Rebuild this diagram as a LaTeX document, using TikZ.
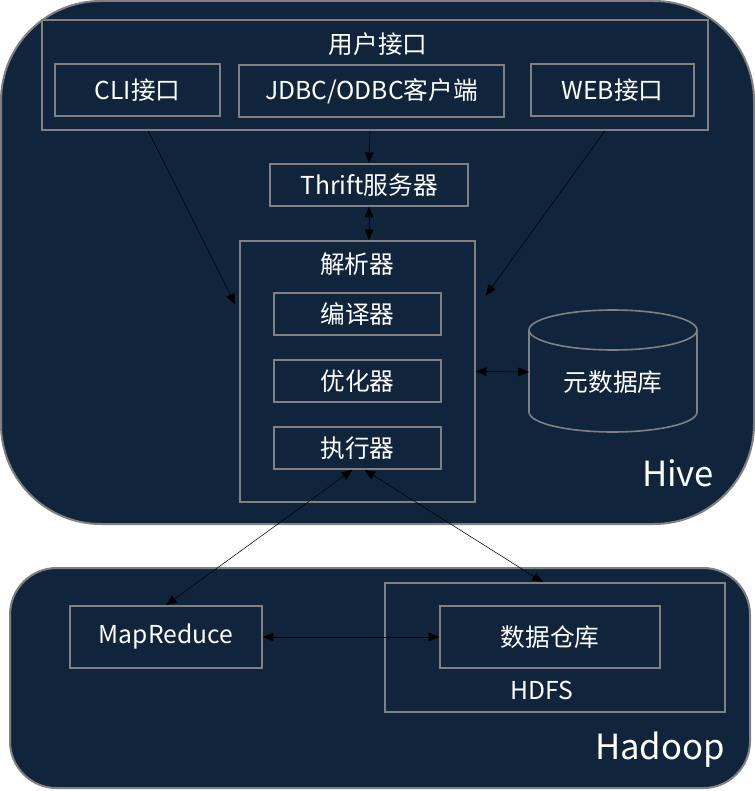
\documentclass[tikz,border=0pt]{standalone}
\usepackage{fontspec}
\setmainfont{Noto Sans CJK SC}
\usetikzlibrary{arrows.meta}
\usetikzlibrary{calc}
\definecolor{hivebg}{RGB}{16,37,60}
\definecolor{boxline}{RGB}{128,128,128}

\begin{document}
\begin{tikzpicture}[x=0.75pt,y=-0.75pt,
	dims/.style 2 args={minimum width=#1*0.75pt, minimum height=#2*0.75pt},
	box/.style={draw=boxline, line width=1.2pt, inner sep=0pt, text=white, font=\fontsize{18.5}{22}\selectfont},
	title/.style={text=white, inner sep=0pt, font=\fontsize{18.5}{22}\selectfont},
	big/.style={text=white, inner sep=0pt, font=\fontsize{26}{30}\selectfont},
	panel/.style={draw=boxline, line width=1.5pt, fill=hivebg},
	>={Triangle[length=8pt,width=6.5pt]}]
	\useasboundingbox (0,0) rectangle (755,791);
	% the two big panels
	\draw[panel, rounded corners=75] (1,1) rectangle (754,524);
	\draw[panel, rounded corners=35] (10,568) rectangle (750,788);
	% Hive side
	\node[box, dims={666}{110}] (ui) at (375,75) {};
	\node[title] (ui-title) at (378,44) {用户接口};
	\node[box, dims={165}{52}] (cli) at (137.5,90) {CLI接口};
	\node[box, dims={265}{52}] (jdbc) at (371.5,91) {JDBC/ODBC客户端};
	\node[box, dims={163}{52}] (web) at (612.5,90) {WEB接口};
	\node[box, dims={198}{42}] (thrift) at (369,185) {Thrift服务器};
	\node[box, dims={235}{261}] (parser) at (357.5,371.5) {};
	\node[title] (parser-title) at (357,264) {解析器};
	\node[box, dims={167}{42}] (compiler) at (357.5,314) {编译器};
	\node[box, dims={167}{42}] (optimizer) at (357.5,381) {优化器};
	\node[box, dims={167}{42}] (executor) at (357.5,448) {执行器};
	% metastore cylinder
	\draw[draw=boxline, line width=1.2pt]
		(529,330) -- (529,412) arc[start angle=180, end angle=0, x radius=84, y radius=20]
		-- (697,330);
	\draw[draw=boxline, line width=1.2pt] (613,330) ellipse [x radius=84, y radius=20];
	\node[title] (meta) at (613,382) {元数据库};
	\coordinate (meta-w) at (529,372);
	\node[big] (hive) at (678,473) {Hive};
	% Hadoop side
	\node[box, dims={192}{62}] (mapreduce) at (166,637) {MapReduce};
	\node[box, dims={340}{129}] (hdfs) at (555,647.5) {};
	\node[box, dims={220}{62}] (warehouse) at (550,637) {数据仓库};
	\node[title] (hdfs-title) at (542,690) {HDFS};
	\node[big] (hadoop) at (660,750) {Hadoop};
	% connectors
	\draw[->] ($(ui.south)+(-227,0)$) -- ($(parser.west)+(-4,-67)$);
	\draw[->] ($(ui.south)+(-5,0)$) -- (thrift.north);
	\draw[<->] (thrift.south) -- (thrift.south |- parser.north);
	\draw[->] ($(ui.south)+(230,0)$) -- ($(parser.east)+(10,-76)$);
	\draw[<->] (parser.east) -- (meta-w);
	\draw[<->] ($(executor.south)+(-5,0)$) -- (mapreduce.north);
	\draw[<->] ($(executor.south)+(7,0)$) -- ($(hdfs.north)+(-12,0)$);
	\draw[<->] (mapreduce.east) -- (warehouse.west);
\end{tikzpicture}
\end{document}
